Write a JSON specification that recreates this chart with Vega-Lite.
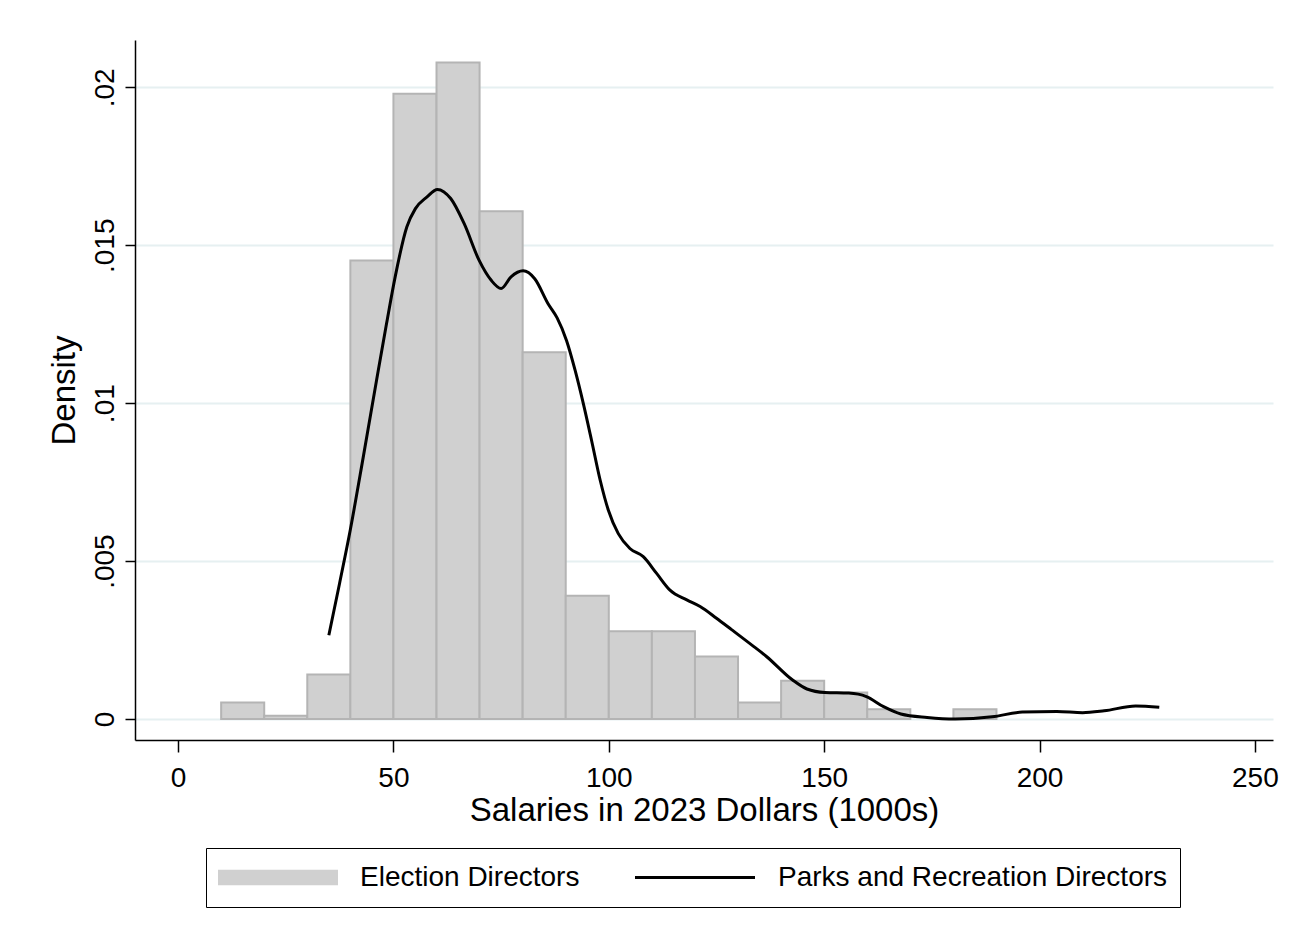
{
  "$schema": "https://vega.github.io/schema/vega-lite/v6.json",
  "autosize": "none",
  "padding": {"left": 135, "top": 40, "right": 33, "bottom": 207},
  "width": 1138,
  "height": 700,
  "background": "white",
  "config": {
    "view": {"stroke": null},
    "font": "Liberation Sans",
    "axis": {
      "labelFont": "Liberation Sans",
      "titleFont": "Liberation Sans",
      "labelColor": "#000000",
      "titleColor": "#000000",
      "titleFontWeight": "normal",
      "domainColor": "#000000",
      "tickColor": "#000000",
      "domainWidth": 1.5,
      "tickWidth": 1.5
    },
    "legend": {
      "labelFont": "Liberation Sans"
    }
  },
  "datasets": {
    "hist": [
      {"bin_start": 10, "bin_end": 20, "density": 0.00052, "series": "Election Directors"},
      {"bin_start": 20, "bin_end": 30, "density": 0.0001, "series": "Election Directors"},
      {"bin_start": 30, "bin_end": 40, "density": 0.00141, "series": "Election Directors"},
      {"bin_start": 40, "bin_end": 50, "density": 0.01452, "series": "Election Directors"},
      {"bin_start": 50, "bin_end": 60, "density": 0.0198, "series": "Election Directors"},
      {"bin_start": 60, "bin_end": 70, "density": 0.02079, "series": "Election Directors"},
      {"bin_start": 70, "bin_end": 80, "density": 0.01608, "series": "Election Directors"},
      {"bin_start": 80, "bin_end": 90, "density": 0.01161, "series": "Election Directors"},
      {"bin_start": 90, "bin_end": 100, "density": 0.0039, "series": "Election Directors"},
      {"bin_start": 100, "bin_end": 110, "density": 0.00278, "series": "Election Directors"},
      {"bin_start": 110, "bin_end": 120, "density": 0.00278, "series": "Election Directors"},
      {"bin_start": 120, "bin_end": 130, "density": 0.00198, "series": "Election Directors"},
      {"bin_start": 130, "bin_end": 140, "density": 0.00052, "series": "Election Directors"},
      {"bin_start": 140, "bin_end": 150, "density": 0.00121, "series": "Election Directors"},
      {"bin_start": 150, "bin_end": 160, "density": 0.00084, "series": "Election Directors"},
      {"bin_start": 160, "bin_end": 170, "density": 0.00031, "series": "Election Directors"},
      {"bin_start": 180, "bin_end": 190, "density": 0.00031, "series": "Election Directors"}
    ],
    "kde": [
      {"salary": 35.0, "density": 0.00265, "series": "Parks and Recreation Directors"},
      {"salary": 37.5, "density": 0.0043, "series": "Parks and Recreation Directors"},
      {"salary": 40.0, "density": 0.006, "series": "Parks and Recreation Directors"},
      {"salary": 43.0, "density": 0.0083, "series": "Parks and Recreation Directors"},
      {"salary": 46.1, "density": 0.01074, "series": "Parks and Recreation Directors"},
      {"salary": 48.4, "density": 0.01252, "series": "Parks and Recreation Directors"},
      {"salary": 50.4, "density": 0.014, "series": "Parks and Recreation Directors"},
      {"salary": 53.1, "density": 0.01558, "series": "Parks and Recreation Directors"},
      {"salary": 55.1, "density": 0.01616, "series": "Parks and Recreation Directors"},
      {"salary": 57.8, "density": 0.01653, "series": "Parks and Recreation Directors"},
      {"salary": 60.2, "density": 0.01677, "series": "Parks and Recreation Directors"},
      {"salary": 63.3, "density": 0.01648, "series": "Parks and Recreation Directors"},
      {"salary": 66.4, "density": 0.01569, "series": "Parks and Recreation Directors"},
      {"salary": 69.9, "density": 0.01452, "series": "Parks and Recreation Directors"},
      {"salary": 72.7, "density": 0.01389, "series": "Parks and Recreation Directors"},
      {"salary": 75.0, "density": 0.01363, "series": "Parks and Recreation Directors"},
      {"salary": 77.3, "density": 0.014, "series": "Parks and Recreation Directors"},
      {"salary": 80.1, "density": 0.01419, "series": "Parks and Recreation Directors"},
      {"salary": 82.8, "density": 0.01394, "series": "Parks and Recreation Directors"},
      {"salary": 85.9, "density": 0.01315, "series": "Parks and Recreation Directors"},
      {"salary": 88.0, "density": 0.0127, "series": "Parks and Recreation Directors"},
      {"salary": 90.2, "density": 0.01198, "series": "Parks and Recreation Directors"},
      {"salary": 92.2, "density": 0.01103, "series": "Parks and Recreation Directors"},
      {"salary": 94.1, "density": 0.00998, "series": "Parks and Recreation Directors"},
      {"salary": 96.0, "density": 0.00882, "series": "Parks and Recreation Directors"},
      {"salary": 98.0, "density": 0.00756, "series": "Parks and Recreation Directors"},
      {"salary": 99.9, "density": 0.00661, "series": "Parks and Recreation Directors"},
      {"salary": 102.2, "density": 0.00587, "series": "Parks and Recreation Directors"},
      {"salary": 104.9, "density": 0.0054, "series": "Parks and Recreation Directors"},
      {"salary": 108.0, "density": 0.00514, "series": "Parks and Recreation Directors"},
      {"salary": 111.1, "density": 0.00461, "series": "Parks and Recreation Directors"},
      {"salary": 114.2, "density": 0.00408, "series": "Parks and Recreation Directors"},
      {"salary": 118.1, "density": 0.00377, "series": "Parks and Recreation Directors"},
      {"salary": 121.2, "density": 0.00356, "series": "Parks and Recreation Directors"},
      {"salary": 125.0, "density": 0.00319, "series": "Parks and Recreation Directors"},
      {"salary": 128.5, "density": 0.00283, "series": "Parks and Recreation Directors"},
      {"salary": 133.6, "density": 0.0023, "series": "Parks and Recreation Directors"},
      {"salary": 136.6, "density": 0.00198, "series": "Parks and Recreation Directors"},
      {"salary": 142.6, "density": 0.00124, "series": "Parks and Recreation Directors"},
      {"salary": 146.0, "density": 0.00095, "series": "Parks and Recreation Directors"},
      {"salary": 150.2, "density": 0.00084, "series": "Parks and Recreation Directors"},
      {"salary": 155.7, "density": 0.00082, "series": "Parks and Recreation Directors"},
      {"salary": 159.8, "density": 0.00071, "series": "Parks and Recreation Directors"},
      {"salary": 163.8, "density": 0.00039, "series": "Parks and Recreation Directors"},
      {"salary": 167.8, "density": 0.00016, "series": "Parks and Recreation Directors"},
      {"salary": 173.9, "density": 0.00005, "series": "Parks and Recreation Directors"},
      {"salary": 180.4, "density": 0.0, "series": "Parks and Recreation Directors"},
      {"salary": 189.0, "density": 0.00007, "series": "Parks and Recreation Directors"},
      {"salary": 196.0, "density": 0.00022, "series": "Parks and Recreation Directors"},
      {"salary": 204.0, "density": 0.00024, "series": "Parks and Recreation Directors"},
      {"salary": 210.0, "density": 0.0002, "series": "Parks and Recreation Directors"},
      {"salary": 215.0, "density": 0.00026, "series": "Parks and Recreation Directors"},
      {"salary": 222.3, "density": 0.00041, "series": "Parks and Recreation Directors"},
      {"salary": 227.8, "density": 0.00037, "series": "Parks and Recreation Directors"}
    ]
  },
  "layer": [
    {
      "data": {"name": "hist"},
      "mark": {"type": "bar", "stroke": "#B4B4B4", "strokeWidth": 2, "opacity": 1},
      "encoding": {
        "x": {
          "field": "bin_start", "type": "quantitative",
          "scale": {"domain": [-10, 254.2], "nice": false, "zero": false},
          "axis": {
            "values": [0, 50, 100, 150, 200, 250],
            "title": "Salaries in 2023 Dollars (1000s)",
            "titleFontSize": 33,
            "titlePadding": 2,
            "labelFontSize": 28,
            "labelPadding": 12,
            "tickSize": 12,
            "grid": false,
            "labelFlush": false,
            "labelOverlap": false
          }
        },
        "x2": {"field": "bin_end"},
        "y": {
          "field": "density", "type": "quantitative",
          "scale": {"domain": [-0.000665, 0.0215], "nice": false, "zero": false},
          "axis": {
            "values": [0, 0.005, 0.01, 0.015, 0.02],
            "labelExpr": "datum.value == 0 ? '0' : substring(format(datum.value, '.3~f'), 1)",
            "title": "Density",
            "titleFontSize": 33,
            "titlePadding": 10,
            "labelFontSize": 28,
            "labelAngle": -90,
            "labelAlign": "center",
            "labelBaseline": "bottom",
            "labelPadding": 6,
            "tickSize": 10,
            "grid": true,
            "gridColor": "#E6F0F1",
            "gridWidth": 2,
            "labelFlush": false,
            "labelOverlap": false
          }
        },
        "y2": {"datum": 0},
        "fill": {
          "field": "series", "type": "nominal",
          "scale": {"domain": ["Election Directors", "Parks and Recreation Directors"], "range": ["#D0D0D0", "transparent"]},
          "legend": {
            "title": null,
            "orient": "none",
            "legendX": 71,
            "legendY": 808,
            "direction": "horizontal",
            "padding": 12,
            "strokeColor": "#000000",
            "clipHeight": 35,
            "symbolSize": 14400,
            "symbolType": "M-1,-0.13H1V0.13H-1Z",
            "symbolStrokeColor": "transparent",
            "symbolStrokeWidth": 0,
            "symbolOpacity": 1,
            "labelFontSize": 28,
            "labelColor": "#000000",
            "labelOffset": 22,
            "columnPadding": 56,
            "labelLimit": 600,
            "labelExpr": "datum.value === 'Parks and Recreation Directors' ? datum.label + '\u00a0\u00a0\u00a0' : datum.label"
          }
        }
      }
    },
    {
      "data": {"name": "kde"},
      "mark": {"type": "line", "strokeWidth": 3, "interpolate": "monotone"},
      "encoding": {
        "x": {"field": "salary", "type": "quantitative"},
        "y": {"field": "density", "type": "quantitative"},
        "stroke": {
          "field": "series", "type": "nominal",
          "scale": {"domain": ["Parks and Recreation Directors"], "range": ["#000000"]},
          "legend": {
            "title": null,
            "orient": "none",
            "legendX": 498.5,
            "legendY": 820,
            "direction": "horizontal",
            "padding": 0,
            "clipHeight": 35,
            "symbolType": "stroke",
            "symbolSize": 14400,
            "symbolStrokeWidth": 3,
            "symbolOpacity": 1,
            "labelFontSize": 28,
            "labelOpacity": 0
          }
        }
      }
    }
  ]
}
